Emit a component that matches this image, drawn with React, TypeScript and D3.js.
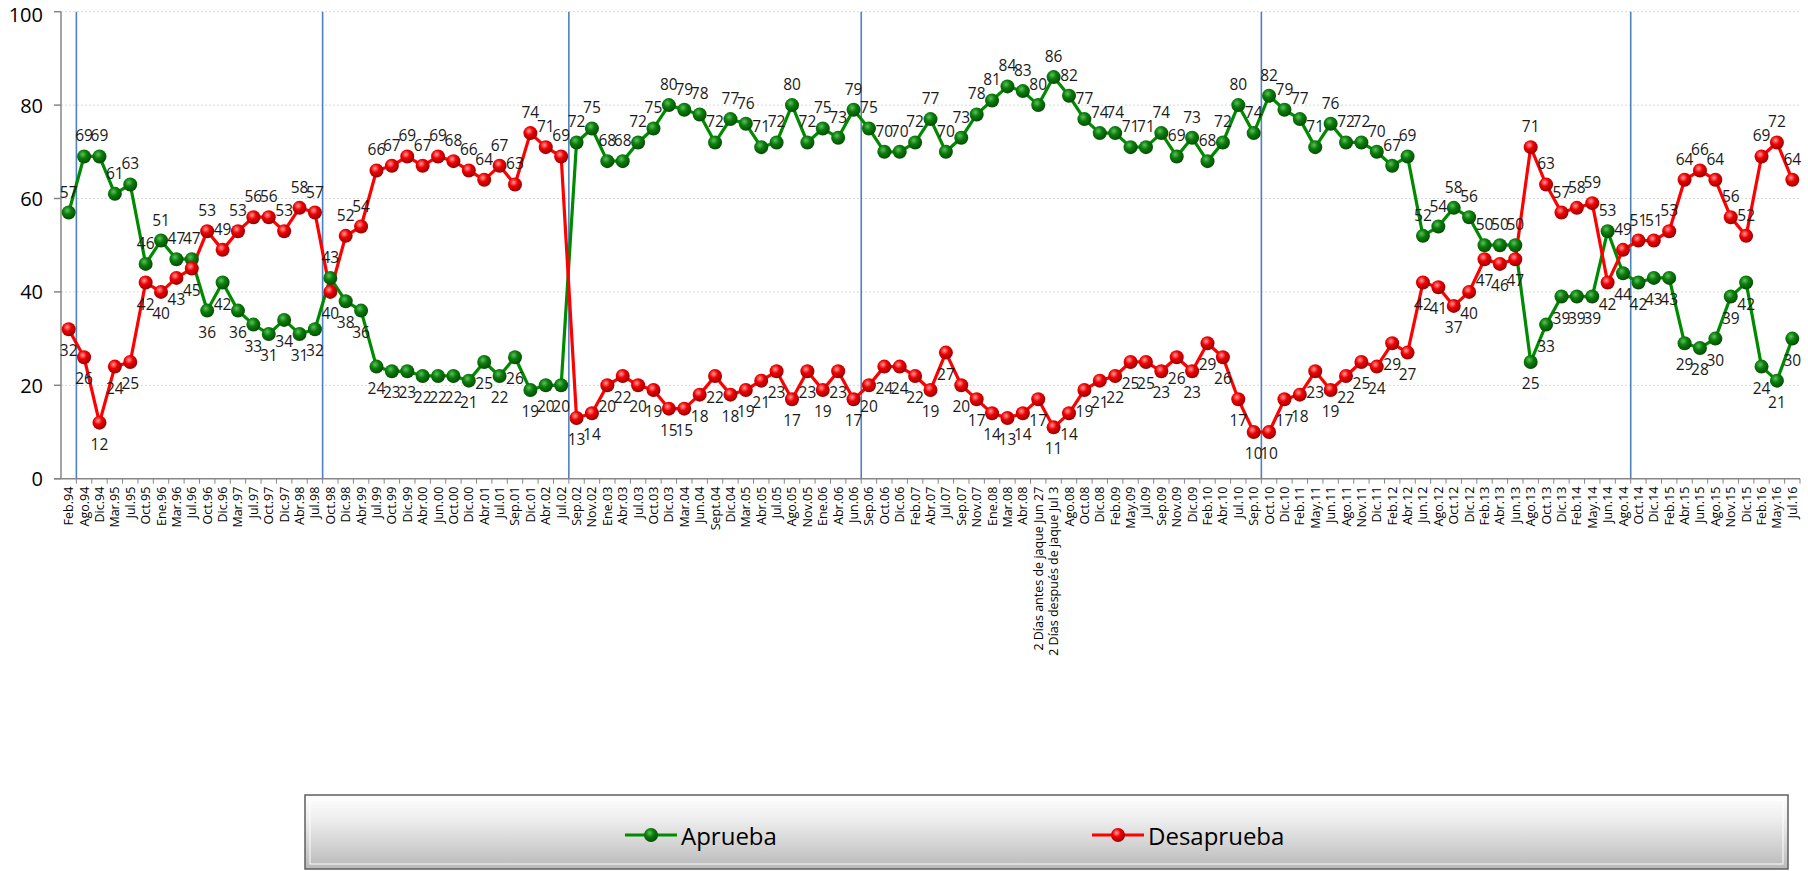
import React from "react";
import * as d3 from "d3";

const categories: string[] = [
  "Feb.94","Ago.94","Dic.94","Mar.95","Jul.95","Oct.95","Ene.96","Mar.96","Jul.96","Oct.96","Dic.96","Mar.97","Jul.97","Oct.97","Dic.97","Abr.98","Jul.98",
  "Oct.98","Dic.98","Abr.99","Jul.99","Oct.99","Dic.99","Abr.00","Jun.00","Oct.00","Dic.00","Abr.01","Jul.01","Sep.01","Dic.01","Abr.02","Jul.02",
  "Sep.02","Nov.02","Ene.03","Abr.03","Jul.03","Oct.03","Dic.03","Mar.04","Jun.04","Sept.04","Dic.04","Mar.05","Abr.05","Jul.05","Ago.05","Nov.05","Ene.06","Abr.06","Jun.06",
  "Sep.06","Oct.06","Dic.06","Feb.07","Abr.07","Jul.07","Sep.07","Nov.07","Ene.08","Mar.08","Abr.08","2 Días antes de jaque Jun 27","2 Días después de jaque Jul 3","Ago.08","Oct.08","Dic.08","Feb.09","May.09","Jul.09","Sep.09","Nov.09","Dic.09","Feb.10","Abr.10","Jul.10","Sep.10",
  "Oct.10","Dic.10","Feb.11","May.11","Jun.11","Ago.11","Nov.11","Dic.11","Feb.12","Abr.12","Jun.12","Ago.12","Oct.12","Dic.12","Feb.13","Abr.13","Jun.13","Ago.13","Oct.13","Dic.13","Feb.14","May.14","Jun.14","Ago.14",
  "Oct.14","Dic.14","Feb.15","Abr.15","Jun.15","Ago.15","Nov.15","Dic.15","Feb.16","May.16","Jul.16",
];

const aprueba: number[] = [
  57,69,69,61,63,46,51,47,47,36,42,36,33,31,34,31,32,
  43,38,36,24,23,23,22,22,22,21,25,22,26,19,20,20,
  72,75,68,68,72,75,80,79,78,72,77,76,71,72,80,72,75,73,79,
  75,70,70,72,77,70,73,78,81,84,83,80,86,82,77,74,74,71,71,74,69,73,68,72,80,74,
  82,79,77,71,76,72,72,70,67,69,52,54,58,56,50,50,50,25,33,39,39,39,53,44,
  42,43,43,29,28,30,39,42,24,21,30,
];

const desaprueba: number[] = [
  32,26,12,24,25,42,40,43,45,53,49,53,56,56,53,58,57,
  40,52,54,66,67,69,67,69,68,66,64,67,63,74,71,69,
  13,14,20,22,20,19,15,15,18,22,18,19,21,23,17,23,19,23,17,
  20,24,24,22,19,27,20,17,14,13,14,17,11,14,19,21,22,25,25,23,26,23,29,26,17,10,
  10,17,18,23,19,22,25,24,29,27,42,41,37,40,47,46,47,71,63,57,58,59,42,49,
  51,51,53,64,66,64,56,52,69,72,64,
];

const yTicks: number[] = [0, 20, 40, 60, 80, 100];
const termBreaks: string[] = ["Feb.94", "Jul.98", "Jul.02", "Jun.06", "Sep.10", "Ago.14"];
const seriesNames: string[] = ["Aprueba", "Desaprueba"];

const W = 1808;
const H = 871;
const FONT = "'Open Sans', 'DejaVu Sans', sans-serif";

export default function App() {
  const x = d3.scaleBand<string>().domain(categories).range([61, 1800]).paddingInner(0).paddingOuter(0);
  const y = d3.scaleLinear().domain([0, 100]).range([478.7, 11.7]);
  const bw = x.bandwidth();
  const cx = (i: number) => (x(categories[i]) as number) + bw / 2;

  const line = d3
    .line<number>()
    .x((_, i) => cx(i))
    .y((d) => y(d));

  const series = [
    { name: seriesNames[0], values: aprueba, other: desaprueba, color: "#008a00", grad: "gGreen" },
    { name: seriesNames[1], values: desaprueba, other: aprueba, color: "#ff0000", grad: "gRed" },
  ];

  const y0 = y(0);
  const xLeft = x.range()[0];
  const xRight = x.range()[1];

  return (
    <svg
      width={W}
      height={H}
      style={{ position: "absolute", left: 0, top: 0, background: "#fff" }}
      fontFamily={FONT}
    >
      <defs>
        <radialGradient id="gGreen" cx="40%" cy="35%" r="65%">
          <stop offset="0%" stopColor="#5cc25c" />
          <stop offset="45%" stopColor="#0b7d0b" />
          <stop offset="100%" stopColor="#034d03" />
        </radialGradient>
        <radialGradient id="gRed" cx="40%" cy="35%" r="65%">
          <stop offset="0%" stopColor="#ff9a9a" />
          <stop offset="45%" stopColor="#ee0000" />
          <stop offset="100%" stopColor="#9a0000" />
        </radialGradient>
        <linearGradient id="legBg" x1="0" y1="0" x2="0" y2="1">
          <stop offset="0%" stopColor="#ffffff" />
          <stop offset="35%" stopColor="#ececec" />
          <stop offset="100%" stopColor="#b9b9b9" />
        </linearGradient>
      </defs>

      {/* gridlines */}
      {yTicks.filter((t) => t > 0).map((t) => (
        <line key={"g" + t} x1={xLeft} x2={xRight} y1={y(t)} y2={y(t)} stroke="#d9d9d9" strokeWidth={1} strokeDasharray="2,2" />
      ))}

      {/* term separators */}
      {termBreaks.map((c) => {
        const bx = (x(c) as number) + bw;
        return <line key={"t" + c} x1={bx} x2={bx} y1={y(100)} y2={y0} stroke="#4f81bd" strokeWidth={1.6} />;
      })}

      {/* y axis */}
      <line x1={xLeft} x2={xLeft} y1={y(100)} y2={y0} stroke="#868686" strokeWidth={1.5} />
      {yTicks.map((t) => (
        <g key={"y" + t}>
          <line x1={xLeft - 7} x2={xLeft} y1={y(t)} y2={y(t)} stroke="#868686" strokeWidth={1.5} />
          <text x={43} y={Math.max(y(t), 14)} textAnchor="end" dominantBaseline="central" fontSize={20} fill="#000">
            {t}
          </text>
        </g>
      ))}

      {/* x axis */}
      <line x1={xLeft - 7} x2={xRight} y1={y0} y2={y0} stroke="#868686" strokeWidth={1.5} />
      {categories.map((c, i) => (
        <g key={"x" + i}>
          <line x1={(x(c) as number) + bw} x2={(x(c) as number) + bw} y1={y0} y2={y0 + 5} stroke="#868686" strokeWidth={1} />
          <text
            transform={`translate(${cx(i)},${y0 + 8}) rotate(-90)`}
            textAnchor="end"
            dominantBaseline="central"
            fontSize={12.5}
            fill="#000"
          >
            {c}
          </text>
        </g>
      ))}

      {/* series lines */}
      {series.map((s) => (
        <path key={"l" + s.name} d={line(s.values) || ""} fill="none" stroke={s.color} strokeWidth={3.2} strokeLinejoin="round" />
      ))}

      {/* markers */}
      {series.map((s) => (
        <g key={"m" + s.name}>
          {s.values.map((v, i) => (
            <circle key={i} cx={cx(i)} cy={y(v)} r={7} fill={`url(#${s.grad})`} />
          ))}
        </g>
      ))}

      {/* data labels */}
      {series.map((s) => (
        <g key={"d" + s.name}>
          {s.values.map((v, i) => {
            const above = v >= s.other[i];
            return (
              <text
                key={i}
                x={cx(i)}
                y={y(v) + (above ? -21 : 21)}
                textAnchor="middle"
                dominantBaseline="central"
                fontSize={15.5}
                fill="#1a1a1a"
              >
                {v}
              </text>
            );
          })}
        </g>
      ))}

      {/* legend */}
      <g>
        <rect x={305} y={795} width={1483} height={74} fill="url(#legBg)" stroke="#5f5f5f" strokeWidth={1.5} />
        <rect x={310} y={800} width={1473} height={64} fill="none" stroke="#ffffff" strokeOpacity={0.8} strokeWidth={1.2} />
        {series.map((s, k) => {
          const lx = k === 0 ? 625 : 1092;
          const ly = 835;
          return (
            <g key={"lg" + s.name}>
              <line x1={lx} x2={lx + 52} y1={ly} y2={ly} stroke={s.color} strokeWidth={3.2} />
              <circle cx={lx + 26} cy={ly} r={7} fill={`url(#${s.grad})`} />
              <text x={lx + 56} y={ly} dominantBaseline="central" fontSize={24} fill="#000">
                {s.name}
              </text>
            </g>
          );
        })}
      </g>
    </svg>
  );
}
